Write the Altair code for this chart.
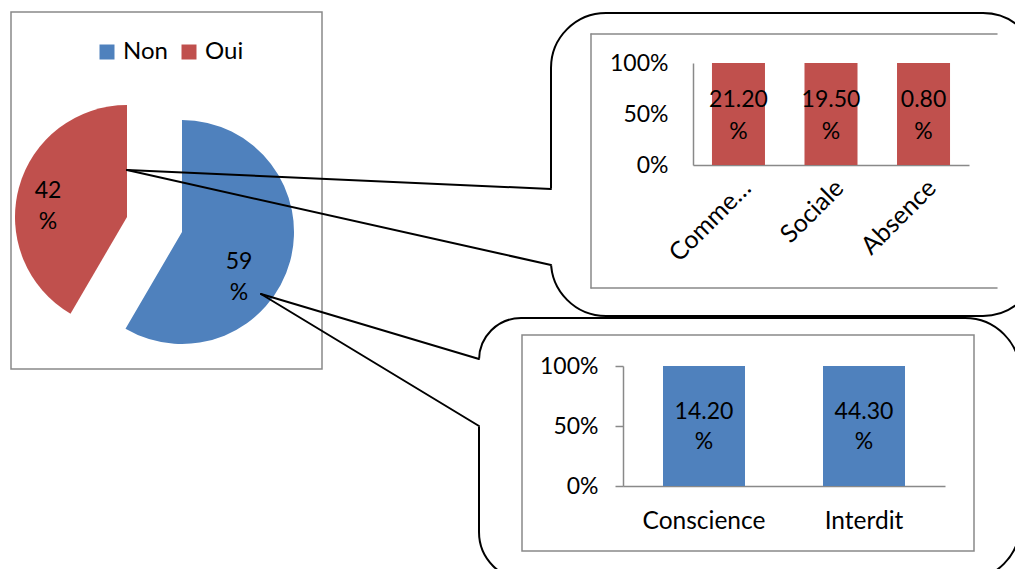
import altair as alt
import pandas as pd

# ---------------- data ----------------
answers = ["Non", "Oui"]
answer_pct = [59, 42]

reasons_oui = ["Comme…", "Sociale", "Absence"]
reasons_oui_pct = [21.20, 19.50, 0.80]

reasons_non = ["Conscience", "Interdit"]
reasons_non_pct = [14.20, 44.30]

BLUE = "#4F81BD"
RED = "#C0504D"
GRAY = "#898989"
FONT = "Lato"
FS = 23
FS_WORD = 24.5

pie_df = pd.DataFrame({"answer": answers, "pct": answer_pct, "order": [0, 1]})
pie_df["label"] = [f"{v}\n%" for v in answer_pct]

top_df = pd.DataFrame({"reason": reasons_oui, "pct": reasons_oui_pct})
top_df["label"] = [f"{v:.2f}\n%" for v in reasons_oui_pct]

bot_df = pd.DataFrame({"reason": reasons_non, "pct": reasons_non_pct})
bot_df["label"] = [f"{v:.2f}\n%" for v in reasons_non_pct]

one = pd.DataFrame({"k": [0]})

# ---------------- decorations ----------------
def box(x1, x2, y1, y2, color, width, **kw):
    return alt.Chart(one).mark_rect(filled=False, stroke=color, strokeWidth=width, **kw).encode(
        x=alt.value(x1), x2=alt.value(x2), y=alt.value(y1), y2=alt.value(y2))

def seg(x1, y1, x2, y2, color="black", width=2):
    return alt.Chart(one).mark_rule(color=color, strokeWidth=width, strokeCap="round").encode(
        x=alt.value(x1), y=alt.value(y1), x2=alt.value(x2), y2=alt.value(y2))

pie_panel = box(3, 314, 4, 361, GRAY, 1.5)

top_callout = box(543, 1030, 5, 308, "black", 2, cornerRadius=55)
top_erase = seg(543, 182, 543, 256, "white", 4)
top_w1 = seg(119, 162, 543, 181)
top_w2 = seg(119, 162, 543, 257)

bot_callout = box(471, 1012, 310, 572, "black", 2, cornerRadius=55,
                  cornerRadiusTopLeft=42, cornerRadiusBottomLeft=48)
bot_erase = seg(471, 352, 471, 417, "white", 4)
bot_w1 = seg(253, 286, 471, 351)
bot_w2 = seg(253, 286, 471, 418)

top_inner = alt.layer(
    seg(583, 26, 989, 26, GRAY, 1.5),
    seg(583, 26, 583, 280, GRAY, 1.5),
    seg(583, 280, 989, 280, GRAY, 1.5),
)
bot_inner = box(514, 966, 327, 543, GRAY, 1.5)

# ---------------- pie ----------------
theta = alt.Theta("pct:Q", stack=True)
color = alt.Color(
    "answer:N",
    scale=alt.Scale(domain=answers, range=[BLUE, RED]),
    legend=alt.Legend(
        title=None, orient="none", legendX=87, legendY=32, direction="horizontal",
        symbolType="square", symbolSize=225, symbolStrokeWidth=0,
        labelFont=FONT, labelFontSize=24, labelColor="black",
        labelOffset=4, columnPadding=9,
    ),
)

def slice_layer(name, cx, cy):
    return alt.Chart(pie_df).mark_arc(radius=112).encode(
        theta=theta,
        color=color,
        order=alt.Order("order:Q"),
        opacity=alt.condition(f"datum.answer == '{name}'", alt.value(1), alt.value(0)),
        x=alt.value(cx),
        y=alt.value(cy),
    )

def pie_label(name, x, y):
    return alt.Chart(pie_df).transform_filter(f"datum.answer == '{name}'").mark_text(
        lineBreak="\n", font=FONT, fontSize=FS, lineHeight=31, color="black", baseline="middle"
    ).encode(text="label:N", x=alt.value(x), y=alt.value(y))

pie = alt.layer(
    slice_layer("Oui", 119, 209),
    slice_layer("Non", 174, 224),
    pie_label("Oui", 40, 183),
    pie_label("Non", 231, 254),
)

# ---------------- bar charts ----------------
def axis_common(**kw):
    kw.setdefault("labelFontSize", FS)
    return alt.Axis(
        title=None, grid=False, labelFont=FONT, labelColor="black",
        domainColor=GRAY, domainWidth=1.5, tickColor=GRAY, tickWidth=1.5, **kw)

x_top_scale = alt.Scale(domain=reasons_oui, range=[685, 961], paddingInner=0.427, paddingOuter=0.205)
y_top_scale = alt.Scale(domain=[0, 1], range=[157, 55])

top_bars = alt.Chart(top_df).mark_bar(color=RED).encode(
    x=alt.X("reason:N", sort=reasons_oui, scale=x_top_scale,
            axis=axis_common(orient="bottom", offset=-404, labelAngle=-45, ticks=False,
                             labelPadding=10, labelFontSize=FS_WORD + 0.5)),
    y=alt.Y("pct:Q", stack="normalize", scale=y_top_scale,
            axis=axis_common(orient="left", offset=-685, values=[0, 0.5, 1], format="%",
                             ticks=False, labelPadding=25)),
)
top_labels = alt.Chart(top_df).mark_text(
    lineBreak="\n", font=FONT, fontSize=FS, lineHeight=32, color="black", baseline="middle"
).encode(
    x=alt.X("reason:N", sort=reasons_oui, scale=x_top_scale),
    text="label:N",
    y=alt.value(92),
)
top_chart = alt.layer(top_bars, top_labels)

x_bot_scale = alt.Scale(domain=reasons_non, range=[615, 937], paddingInner=0.4875, paddingOuter=0.25)
y_bot_scale = alt.Scale(domain=[0, 1], range=[478, 358])

bot_bars = alt.Chart(bot_df).mark_bar(color=BLUE).encode(
    x=alt.X("reason:N", sort=reasons_non, scale=x_bot_scale,
            axis=axis_common(orient="bottom", offset=-83, labelAngle=0, ticks=False,
                             labelPadding=23, labelFontSize=FS_WORD)),
    y=alt.Y("pct:Q", stack="normalize", scale=y_bot_scale,
            axis=axis_common(orient="left", offset=-615, values=[0, 0.5, 1], format="%",
                             ticks=True, tickSize=8, labelPadding=17)),
)
bot_labels = alt.Chart(bot_df).mark_text(
    lineBreak="\n", font=FONT, fontSize=FS, lineHeight=30, color="black", baseline="middle"
).encode(
    x=alt.X("reason:N", sort=reasons_non, scale=x_bot_scale),
    text="label:N",
    y=alt.value(404),
)
bot_chart = alt.layer(bot_bars, bot_labels)

chart = alt.layer(
    pie_panel,
    pie,
    top_callout, top_erase,
    bot_callout, bot_erase,
    top_w1, top_w2, bot_w1, bot_w2,
    top_inner, bot_inner,
    top_chart,
    bot_chart,
).resolve_scale(
    x="independent", y="independent"
).properties(
    width=1007, height=561, padding=0,
    autosize=alt.AutoSizeParams(type="none"),
).configure_view(stroke=None)

chart.save("out.html", embed_options={"renderer": "svg", "actions": False})
